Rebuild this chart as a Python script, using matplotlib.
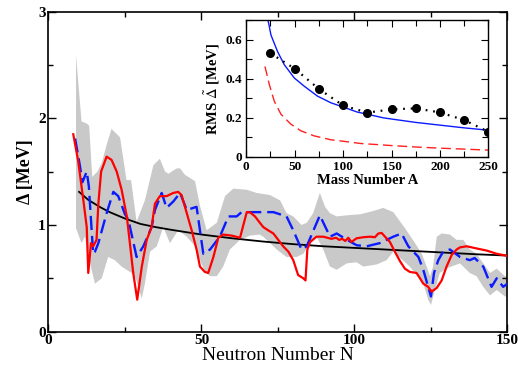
import numpy as np
import matplotlib
matplotlib.use("Agg")
import matplotlib.pyplot as plt
from matplotlib.ticker import MultipleLocator

plt.rcParams['font.family'] = ['Liberation Serif', 'DejaVu Serif']
plt.rcParams['mathtext.fontset'] = 'stix'

# ---------------- main panel data ----------------
band_hi_N = [9, 10.8, 12.5, 13.3, 14.3, 16, 17.4, 19, 20.6, 23.4, 25.5, 27, 28.8, 31.5, 34.3,
             36.4, 38.1, 39.2, 41.9, 43, 44.6, 47.9, 49.5, 51.7, 55, 57.7, 60.4, 64.8, 68,
             72.4, 75.7, 77.8, 80, 82.7, 84.4, 86.5, 88.7, 90.4, 92, 94.2, 97.5, 101.8,
             106.1, 109.4, 112.7, 116.5, 119.8, 122, 123.6, 124.7, 125.7, 126.9, 128.5,
             131.2, 133.4, 135.6, 137.7, 139.9, 142.1, 144.3, 146.5, 149.2, 150]
band_hi = [2.59, 1.97, 1.95, 1.93, 1.45, 1.50, 1.58, 1.75, 1.90, 1.82, 1.42, 1.42, 1.03, 1.23, 1.56,
           1.62, 1.50, 1.48, 1.53, 1.53, 1.47, 1.41, 1.18, 0.95, 1.02, 1.27, 1.34, 1.33, 1.30,
           1.28, 1.23, 1.11, 1.08, 1.00, 1.02, 1.11, 1.30, 1.17, 1.11, 1.08, 1.09, 1.10,
           1.13, 1.16, 1.12, 0.97, 0.83, 0.73, 0.61, 0.52, 0.61, 0.89, 0.92,
           0.91, 0.86, 0.86, 0.77, 0.73, 0.64, 0.55, 0.59, 0.52, 0.52]
band_lo_N = [9, 10.8, 11.9, 14.1, 15.2, 17.4, 19.5, 21.7, 23.9, 25.5, 27.2, 28.5, 30.5, 31.5,
             33.2, 35.4, 37.5, 39.7, 42.4, 45.2, 47.9, 49.5, 51.2, 52.8, 55, 57.1, 59.3, 62.6,
             65.8, 69, 70.2, 74.6, 77.8, 81.1, 83.3, 85.5, 87.6, 89.8, 92, 94.2, 97.5, 100.7,
             102.9, 107.3, 110.5, 112.7, 115.4, 118.1, 119.8, 122.5, 124.1, 125, 126.3, 127.9,
             130.7, 134.5, 137.7, 139.9, 142.1, 144.3, 146.5, 149.2, 150]
band_lo = [0.97, 0.83, 0.89, 0.58, 0.45, 0.50, 0.70, 0.67, 0.61, 0.58, 0.55, 0.50, 0.31, 0.45,
           0.75, 0.80, 0.98, 0.83, 0.95, 0.89, 0.80, 0.67, 0.56, 0.52, 0.52, 0.61, 0.77, 0.86,
           0.90, 0.91, 0.89, 0.77, 0.70, 0.70, 0.73, 0.83, 0.89, 0.77, 0.61, 0.58, 0.64, 0.65,
           0.61, 0.63, 0.67, 0.75, 0.68, 0.61, 0.55, 0.45, 0.30, 0.25, 0.39, 0.55,
           0.60, 0.64, 0.55, 0.52, 0.42, 0.34, 0.39, 0.33, 0.33]

red_N = [8.1, 9.7, 11.4, 12.5, 13.0, 13.9, 14.6, 15.7, 16.3, 17.2, 19, 20.6, 22.3, 23.9, 25.6,
         26.6, 27.7, 29, 30.5, 32.1, 33.7, 34.8, 36.4, 38.6, 40.8, 42.4, 43.5, 45.2, 46.8,
         48.4, 49.5, 51.1, 52.2, 53.9, 55.5, 57.1, 59.9, 62.6, 64.8, 65.8, 67.5, 69.1, 70.2,
         71.8, 73.5, 75.1, 76.7, 78.4, 80, 81.6, 83.3, 84, 84.6, 85.5, 87.6, 89.8, 92.5, 94,
         95, 96, 97, 98, 99, 100.7, 102.9, 105.1, 106.7, 107.8, 108.9, 110, 111.6, 113.2,
         114.9, 116.5, 118.1, 120.3, 121.2, 122.5, 124.1, 125.2, 126.9, 128.5, 130.1, 131.8,
         133.4, 134.5, 136.7, 139.9, 143.2, 146.5, 150]
red_D = [1.85, 1.60, 1.23, 0.98, 0.55, 0.83, 0.80, 0.86, 1.20, 1.50, 1.64, 1.61, 1.50, 1.33, 1.08,
         0.83, 0.55, 0.30, 0.61, 0.86, 0.98, 1.20, 1.27, 1.27, 1.30, 1.31, 1.28, 1.11, 0.95,
         0.77, 0.61, 0.56, 0.55, 0.70, 0.88, 0.91, 0.90, 0.88, 1.12, 1.12, 1.08, 1.02, 0.98,
         0.95, 0.92, 0.86, 0.80, 0.75, 0.67, 0.53, 0.50, 0.48, 0.77, 0.84, 0.89, 0.89, 0.87, 0.88,
         0.86, 0.87, 0.85, 0.88, 0.84, 0.875, 0.885, 0.89, 0.885, 0.92, 0.925, 0.89, 0.84, 0.75,
         0.66, 0.59, 0.56, 0.55, 0.51, 0.45, 0.42, 0.375, 0.41, 0.48, 0.61, 0.72,
         0.77, 0.79, 0.80, 0.78, 0.76, 0.73, 0.71]

blue_N = [8.7, 10.3, 11.1, 12.5, 13.2, 14.6, 15.2, 16.3, 19, 21.2, 22.8, 25, 26.1, 28.8, 31,
          33.7, 34.8, 37, 38.6, 40.8, 43, 45.2, 48.4, 50.6, 52.8, 56, 58.8, 61.5, 63.1, 66.4,
          73.5, 77.8, 80, 82.7, 84.4, 88.7, 92, 94.2, 97, 100.7, 104, 108.3, 112.7, 115.4,
          117.6, 120.9, 122.5, 124.1, 125, 126, 127.4, 129, 131.2, 134.5, 137.7, 139.3, 142.1,
          144.8, 146.5, 148.6, 150]
blue_D = [1.81, 1.55, 1.40, 1.50, 1.36, 0.73, 0.75, 0.83, 1.11, 1.31, 1.27, 1.10, 1.05, 0.70, 0.80,
          0.98, 1.14, 1.30, 1.16, 1.22, 1.30, 1.14, 1.17, 0.73, 0.77, 0.89, 1.08, 1.08, 1.12, 1.12,
          1.12, 1.08, 0.95, 0.77, 0.80, 1.09, 0.89, 0.92, 0.87, 0.81, 0.80, 0.83, 0.89, 0.92,
          0.80, 0.70, 0.58, 0.42, 0.33, 0.55, 0.67, 0.75, 0.77, 0.70, 0.67, 0.69, 0.61,
          0.42, 0.50, 0.42, 0.45]

black_N = [10, 11, 12, 13, 15, 17, 20, 25, 30, 35, 40, 50, 60, 70, 80, 90, 100, 110, 120, 130, 140, 150]
black_D = [1.31, 1.285, 1.26, 1.235, 1.20, 1.165, 1.12, 1.06, 1.01, 0.98, 0.955, 0.91, 0.875, 0.845,
           0.82, 0.80, 0.785, 0.77, 0.755, 0.74, 0.725, 0.713]

# ---------------- inset data ----------------
ins_blue_A = [22.3, 25.7, 32.5, 39.4, 49.7, 59.9, 73.6, 87.3, 100, 114.7, 125, 142, 152, 175, 200, 225, 250]
ins_blue = [0.71, 0.625, 0.54, 0.473, 0.405, 0.363, 0.312, 0.278, 0.256, 0.23, 0.219, 0.20, 0.193,
            0.177, 0.163, 0.149, 0.137]
ins_red_A = [19.5, 24, 29.1, 36, 46.2, 56.5, 70.2, 87.3, 101, 118, 142, 150.7, 175, 200, 225, 250]
ins_red = [0.464, 0.371, 0.286, 0.219, 0.168, 0.134, 0.108, 0.088, 0.080, 0.069, 0.061, 0.058,
           0.051, 0.045, 0.04, 0.035]
ins_dot_A = [25, 50, 75, 100, 125, 150, 175, 200, 225, 250]
ins_dot = [0.532, 0.453, 0.349, 0.264, 0.227, 0.244, 0.249, 0.228, 0.189, 0.129]

# ---------------- figure ----------------
fig = plt.figure(figsize=(5.18, 3.71), dpi=100)
ax = fig.add_axes([0.0936, 0.106, 0.886, 0.863])

poly_x = np.concatenate([band_hi_N, band_lo_N[::-1]])
poly_y = np.concatenate([band_hi, band_lo[::-1]])
ax.fill(poly_x, poly_y, color='#c9c9c9', lw=0, zorder=1)
ax.plot(black_N, black_D, color='black', lw=1.3, zorder=2)
ax.plot(blue_N, blue_D, color='#0a1bff', lw=1.7, dashes=(6, 2.5), zorder=3)
ax.plot(red_N, red_D, color='#ff0000', lw=1.6, zorder=4)

ax.set_xlim(0, 150)
ax.set_ylim(0, 3)
ax.xaxis.set_major_locator(MultipleLocator(50))
ax.xaxis.set_minor_locator(MultipleLocator(25))
ax.yaxis.set_major_locator(MultipleLocator(1))
ax.yaxis.set_minor_locator(MultipleLocator(0.5))
ax.tick_params(which='both', direction='in', top=True, right=True, width=1.0)
ax.tick_params(which='major', length=6, pad=2, labelsize=11)
ax.tick_params(which='minor', length=3.5)
for lab in ax.get_xticklabels() + ax.get_yticklabels():
    lab.set_fontweight('bold')
for s in ax.spines.values():
    s.set_linewidth(1.2)
ax.set_xlabel('Neutron Number N', fontsize=14, labelpad=0)
ax.set_ylabel('Δ [MeV]', fontsize=13, fontweight='bold', labelpad=3)

# ---------------- inset ----------------
ins = fig.add_axes([0.475, 0.577, 0.468, 0.368])
ins.plot(ins_blue_A, ins_blue, color='#0a1bff', lw=1.0)
ins.plot(ins_red_A, ins_red, color='#ff2020', lw=1.0, dashes=(7, 3.5))
ins.plot(ins_dot_A, ins_dot, color='black', lw=1.6, linestyle=(0, (0.8, 2.6)))
ins.plot(ins_dot_A, ins_dot, 'o', color='black', markersize=5.5)
ins.set_xlim(0, 250)
ins.set_ylim(0, 0.7)
ins.xaxis.set_major_locator(MultipleLocator(50))
ins.xaxis.set_minor_locator(MultipleLocator(25))
ins.yaxis.set_major_locator(MultipleLocator(0.2))
ins.yaxis.set_minor_locator(MultipleLocator(0.1))
ins.tick_params(which='both', direction='in', top=True, right=True, width=0.8)
ins.tick_params(which='major', length=5, pad=3, labelsize=9.5)
ins.tick_params(which='minor', length=4)
ins.set_yticks([0, 0.2, 0.4, 0.6])
ins.set_yticklabels(['0', '0.2', '0.4', '0.6'])
ins.set_xticks([0, 50, 100, 150, 200, 250])
ins.set_xticklabels(['0', '50', '100', '150', '200', '250'])
for lab in ins.get_xticklabels() + ins.get_yticklabels():
    lab.set_fontweight('bold')
for s in ins.spines.values():
    s.set_linewidth(1.0)
ins.set_xlabel('Mass Number A', fontsize=10.5, fontweight='bold', labelpad=1)
ins.set_ylabel(r'RMS $\tilde{\Delta}$ [MeV]', fontsize=10.5, fontweight='bold', labelpad=2)

fig.savefig('out.png', dpi=100)
